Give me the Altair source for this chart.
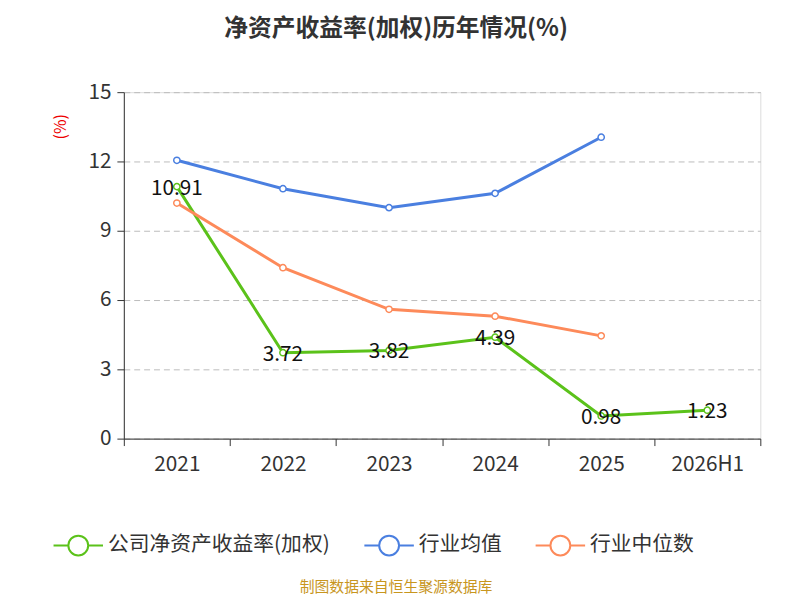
import altair as alt
import pandas as pd

years = ["2021", "2022", "2023", "2024", "2025", "2026H1"]
roe = [10.91, 3.72, 3.82, 4.39, 0.98, 1.23]
ind_mean = [12.05, 10.82, 10.0, 10.62, 13.05]
ind_median = [10.2, 7.4, 5.6, 5.3, 4.45]

names = ["公司净资产收益率(加权)", "行业均值", "行业中位数"]
colors = ["#5bc21a", "#4a7fe0", "#fd8a5a"]

rows = []
for name, vals in zip(names, [roe, ind_mean, ind_median]):
    for y, v in zip(years, vals):
        rows.append({"year": y, "value": v, "series": name})
df = pd.DataFrame(rows)
labels = pd.DataFrame({"year": years, "value": roe, "txt": [f"{v:.2f}" for v in roe]})

font = "Noto Sans CJK SC"
x = alt.X("year:N", sort=years, scale=alt.Scale(paddingInner=0, paddingOuter=0),
          axis=alt.Axis(title=None, labelFontSize=21, labelColor="#333", labelPadding=8,
                        tickBand="extent", tickSize=7, domainColor="#333", tickColor="#333",
                        labelAngle=0, grid=False))
y = alt.Y("value:Q", scale=alt.Scale(domain=[0, 15], nice=False),
          axis=alt.Axis(title=None, values=[0, 3, 6, 9, 12, 15], labelFontSize=21,
                        labelColor="#333", gridDash=[6, 4], gridColor="#bbb",
                        domainColor="#333", tickColor="#333", tickSize=7, labelPadding=6))
color = alt.Color("series:N", sort=names, scale=alt.Scale(domain=names, range=colors),
                  legend=alt.Legend(title=None, orient="none", direction="horizontal",
                                    legendX=-72, legendY=432, labelFontSize=21, labelColor="#333",
                                    labelLimit=0,
                                    symbolType="M-1,0L-0.4,0M0.4,0L1,0M0.4,0A0.4,0.4,0,1,1,-0.4,0A0.4,0.4,0,1,1,0.4,0",
                                    symbolSize=2500, symbolStrokeWidth=2, symbolFillColor="white",
                                    columnPadding=30, labelFont=font))

base = alt.Chart(df)
lines = base.mark_line(strokeWidth=3).encode(x=x, y=y, color=color)
points = base.mark_point(filled=False, fill="white", fillOpacity=1, opacity=1, size=40,
                         strokeWidth=1.5).encode(x=x, y=y, color=alt.Color("series:N", sort=names,
                         scale=alt.Scale(domain=names, range=colors), legend=None))
txt = alt.Chart(labels).mark_text(fontSize=21, color="#111", baseline="middle", dy=2).encode(
    x=alt.X("year:N", sort=years), y="value:Q", text="txt:N")

title = alt.Chart(pd.DataFrame({"t": ["净资产收益率(加权)历年情况(%)"]})).mark_text(
    fontSize=24, fontWeight="bold", color="#333", font=font).encode(
    x=alt.value(275), y=alt.value(-64), text="t:N")
unit = alt.Chart(pd.DataFrame({"t": ["(%)"]})).mark_text(
    fontSize=16, color="#e00", angle=270, font=font).encode(
    x=alt.value(-63), y=alt.value(35), text="t:N")
source = alt.Chart(pd.DataFrame({"t": ["制图数据来自恒生聚源数据库"]})).mark_text(
    fontSize=15, color="#c8961e", font=font).encode(
    x=alt.value(275), y=alt.value(500), text="t:N")

chart = (lines + points + txt + title + unit + source).properties(
    width=643, height=350, autosize=alt.AutoSizeParams(type="none"),
    padding={"left": 117, "top": 82, "right": 32, "bottom": 160}
).configure_view(strokeWidth=0, strokeOpacity=0).configure(font=font)

chart.save("out.html", embed_options={"renderer": "svg", "actions": False})
